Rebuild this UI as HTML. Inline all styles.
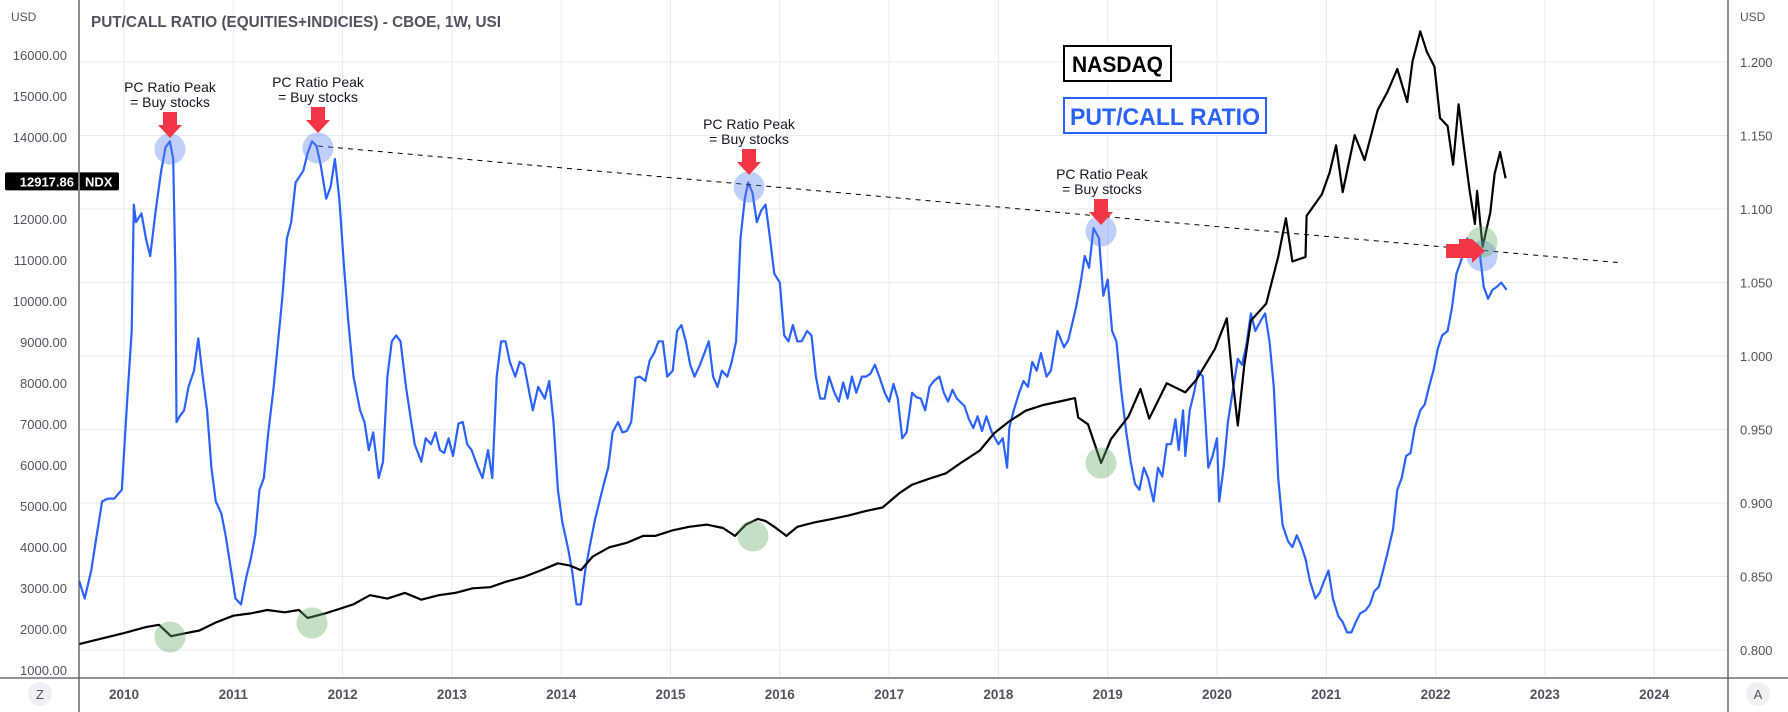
<!DOCTYPE html>
<html><head><meta charset="utf-8">
<style>
html,body{margin:0;padding:0;background:#fff;}
svg{display:block;font-family:"Liberation Sans",sans-serif;}
</style></head>
<body>
<svg id="chart" width="1788" height="712" viewBox="0 0 1788 712" xmlns="http://www.w3.org/2000/svg">
<rect x="0" y="0" width="1788" height="712" fill="#ffffff"/>
<g id="grid"></g>
<g id="series"></g>
<g id="annot"></g>
<g id="axes"></g>
</svg>
<script>
const yearTicks = [2010,2011,2012,2013,2014,2015,2016,2017,2018,2019,2020,2021,2022,2023,2024];
const leftTicks = [1000,2000,3000,4000,5000,6000,7000,8000,9000,10000,11000,12000,14000,15000,16000];
const rightTicks = [1.200,1.150,1.100,1.050,1.000,0.950,0.900,0.850,0.800];

const pcDates = [2009.59,2009.64,2009.70,2009.75,2009.80,2009.85,2009.91,2009.98,2010.03,2010.07,2010.09,2010.11,2010.16,2010.20,2010.24,2010.29,2010.34,2010.38,2010.42,2010.45,2010.47,2010.48,2010.51,2010.55,2010.59,2010.64,2010.68,2010.72,2010.76,2010.80,2010.84,2010.89,2010.93,2010.98,2011.02,2011.07,2011.12,2011.16,2011.20,2011.24,2011.28,2011.32,2011.37,2011.41,2011.45,2011.49,2011.53,2011.57,2011.64,2011.68,2011.72,2011.76,2011.80,2011.85,2011.89,2011.93,2011.97,2012.01,2012.05,2012.10,2012.16,2012.20,2012.24,2012.28,2012.33,2012.37,2012.41,2012.45,2012.49,2012.53,2012.58,2012.62,2012.66,2012.72,2012.76,2012.81,2012.85,2012.89,2012.93,2012.97,2013.01,2013.06,2013.10,2013.14,2013.18,2013.24,2013.28,2013.33,2013.37,2013.41,2013.45,2013.49,2013.53,2013.58,2013.62,2013.66,2013.74,2013.79,2013.85,2013.89,2013.93,2013.97,2014.01,2014.06,2014.10,2014.14,2014.18,2014.22,2014.26,2014.31,2014.35,2014.39,2014.43,2014.47,2014.52,2014.56,2014.60,2014.64,2014.68,2014.72,2014.77,2014.81,2014.85,2014.89,2014.93,2014.97,2015.02,2015.06,2015.10,2015.14,2015.18,2015.22,2015.27,2015.31,2015.35,2015.39,2015.43,2015.47,2015.52,2015.56,2015.60,2015.64,2015.68,2015.71,2015.75,2015.79,2015.83,2015.87,2015.91,2015.95,2016.00,2016.04,2016.08,2016.12,2016.16,2016.20,2016.25,2016.29,2016.33,2016.37,2016.41,2016.45,2016.50,2016.54,2016.58,2016.62,2016.66,2016.70,2016.75,2016.79,2016.83,2016.87,2016.91,2016.96,2017.00,2017.04,2017.08,2017.12,2017.16,2017.21,2017.25,2017.29,2017.33,2017.37,2017.41,2017.46,2017.50,2017.54,2017.58,2017.62,2017.69,2017.73,2017.77,2017.81,2017.85,2017.89,2017.94,2018.00,2018.04,2018.08,2018.10,2018.14,2018.19,2018.23,2018.27,2018.31,2018.35,2018.39,2018.44,2018.48,2018.54,2018.60,2018.64,2018.71,2018.75,2018.79,2018.83,2018.87,2018.92,2018.96,2019.00,2019.04,2019.08,2019.12,2019.17,2019.21,2019.25,2019.29,2019.33,2019.37,2019.42,2019.46,2019.50,2019.54,2019.58,2019.62,2019.65,2019.69,2019.71,2019.75,2019.79,2019.83,2019.87,2019.92,2019.96,2020.00,2020.02,2020.06,2020.10,2020.15,2020.19,2020.23,2020.27,2020.31,2020.35,2020.40,2020.44,2020.48,2020.52,2020.56,2020.60,2020.65,2020.69,2020.73,2020.77,2020.81,2020.85,2020.90,2020.94,2020.98,2021.02,2021.06,2021.11,2021.15,2021.19,2021.23,2021.27,2021.31,2021.36,2021.40,2021.44,2021.48,2021.52,2021.56,2021.61,2021.65,2021.69,2021.73,2021.77,2021.81,2021.86,2021.90,2021.94,2021.98,2022.02,2022.06,2022.11,2022.15,2022.19,2022.23,2022.29,2022.34,2022.38,2022.40,2022.44,2022.48,2022.52,2022.56,2022.60,2022.65];
const pcValues = [0.847,0.835,0.854,0.878,0.901,0.903,0.903,0.909,0.971,1.017,1.103,1.091,1.097,1.080,1.068,1.099,1.126,1.142,1.146,1.134,1.056,0.955,0.959,0.963,0.979,0.990,1.012,0.986,0.963,0.924,0.901,0.893,0.878,0.854,0.835,0.831,0.850,0.862,0.878,0.909,0.917,0.948,0.979,1.010,1.041,1.080,1.091,1.118,1.126,1.138,1.146,1.143,1.130,1.107,1.115,1.134,1.107,1.064,1.025,0.986,0.963,0.955,0.936,0.948,0.917,0.928,0.986,1.010,1.014,1.010,0.979,0.959,0.940,0.928,0.944,0.940,0.948,0.936,0.934,0.944,0.932,0.954,0.955,0.940,0.936,0.924,0.917,0.936,0.917,0.986,1.010,1.010,0.996,0.986,0.996,0.994,0.963,0.979,0.971,0.983,0.955,0.909,0.887,0.870,0.854,0.831,0.831,0.854,0.870,0.889,0.901,0.913,0.924,0.948,0.955,0.948,0.949,0.955,0.985,0.986,0.983,0.997,1.002,1.010,1.010,0.986,0.990,1.017,1.021,1.010,0.994,0.986,0.994,1.002,1.010,0.986,0.979,0.990,0.986,0.996,1.010,1.080,1.107,1.118,1.111,1.091,1.099,1.103,1.080,1.056,1.050,1.014,1.010,1.021,1.010,1.010,1.017,1.014,0.986,0.971,0.971,0.986,0.975,0.969,0.982,0.971,0.986,0.975,0.986,0.986,0.988,0.994,0.986,0.975,0.969,0.981,0.971,0.944,0.948,0.975,0.972,0.971,0.963,0.979,0.983,0.986,0.975,0.969,0.977,0.971,0.966,0.957,0.951,0.959,0.949,0.959,0.948,0.940,0.944,0.924,0.951,0.963,0.975,0.983,0.979,0.996,0.990,1.002,0.986,0.990,1.017,1.006,1.011,1.033,1.049,1.068,1.060,1.087,1.080,1.041,1.052,1.017,1.010,0.979,0.948,0.928,0.913,0.909,0.924,0.917,0.901,0.924,0.918,0.940,0.940,0.957,0.936,0.963,0.932,0.963,0.975,0.990,0.986,0.924,0.932,0.944,0.901,0.924,0.955,0.979,0.998,0.994,1.008,1.029,1.017,1.024,1.029,1.010,0.979,0.917,0.885,0.874,0.870,0.878,0.871,0.862,0.847,0.835,0.839,0.847,0.854,0.835,0.823,0.819,0.812,0.812,0.819,0.825,0.827,0.831,0.840,0.843,0.854,0.866,0.882,0.909,0.917,0.932,0.934,0.951,0.963,0.967,0.979,0.990,1.005,1.014,1.017,1.033,1.056,1.064,1.080,1.068,1.076,1.073,1.047,1.039,1.045,1.047,1.050,1.045];

const ndxDates = [2009.59,2009.80,2010.01,2010.20,2010.32,2010.43,2010.53,2010.69,2010.84,2011.00,2011.16,2011.31,2011.47,2011.60,2011.68,2011.84,2011.94,2012.10,2012.25,2012.41,2012.57,2012.72,2012.88,2013.03,2013.19,2013.35,2013.50,2013.66,2013.82,2013.97,2014.08,2014.18,2014.29,2014.44,2014.60,2014.75,2014.86,2015.02,2015.17,2015.33,2015.48,2015.59,2015.69,2015.80,2015.87,2015.95,2016.06,2016.16,2016.32,2016.48,2016.63,2016.79,2016.94,2017.10,2017.21,2017.36,2017.52,2017.67,2017.83,2017.96,2018.09,2018.25,2018.41,2018.56,2018.70,2018.73,2018.82,2018.94,2019.03,2019.19,2019.30,2019.38,2019.54,2019.71,2019.81,2019.98,2020.09,2020.14,2020.19,2020.25,2020.31,2020.45,2020.56,2020.63,2020.69,2020.81,2020.82,2020.96,2021.03,2021.09,2021.15,2021.26,2021.35,2021.47,2021.56,2021.65,2021.74,2021.79,2021.86,2021.92,2021.99,2022.04,2022.11,2022.16,2022.21,2022.26,2022.31,2022.36,2022.38,2022.43,2022.50,2022.54,2022.59,2022.64];
const ndxValues = [1631,1770,1908,2047,2103,1825,1880,1964,2158,2325,2381,2464,2408,2464,2269,2381,2464,2603,2825,2742,2881,2714,2825,2881,2992,3020,3159,3270,3436,3603,3547,3436,3770,3992,4103,4270,4270,4408,4492,4547,4464,4270,4547,4686,4631,4492,4270,4492,4603,4686,4770,4881,4964,5325,5520,5659,5798,6075,6353,6770,7047,7325,7464,7548,7631,7159,6992,6048,6631,7186,7853,7131,7992,7770,8075,8825,9575,8159,6964,8436,9520,9936,11075,12019,10964,11075,12075,12603,13131,13797,12658,14047,13436,14658,15103,15658,14853,15853,16575,16075,15714,14464,14269,13325,14797,13742,12714,11880,12686,11325,12158,13103,13631,12992];

const lastPrice = 12917.86;

const SVGNS = "http://www.w3.org/2000/svg";
function xS(t){ return 124 + (t - 2010) * 109.3; }
function yR(v){ return 62 + (1.2 - v) * 1470; }
function yL(v){ return 670 - (v - 1000) * 0.041; }
function mk(tag, attrs, parent){
  const el = document.createElementNS(SVGNS, tag);
  for (const k in attrs) el.setAttribute(k, attrs[k]);
  parent.appendChild(el);
  return el;
}
const grid = document.getElementById('grid');
const series = document.getElementById('series');
const annot = document.getElementById('annot');
const axes = document.getElementById('axes');

// grid
yearTicks.forEach(function(y){
  const l = mk('line', {x1:xS(y), x2:xS(y), y1:0, y2:678, stroke:'#e4ebf2', 'stroke-width':1}, grid);
  
  
});
rightTicks.forEach(function(v){
  const l = mk('line', {x1:79, x2:1728, y1:yR(v), y2:yR(v), stroke:'#e4ebf2', 'stroke-width':1}, grid);
  
  
});

// series
function path(dates, vals, yf){
  let d = '';
  for (let i = 0; i < dates.length; i++) d += (i ? 'L' : 'M') + xS(dates[i]).toFixed(1) + ' ' + yf(vals[i]).toFixed(1);
  return d;
}
const pcLine = mk('path', {d:path(pcDates, pcValues, yR), fill:'none', stroke:'#2962ff', 'stroke-width':2.2, 'stroke-linejoin':'round'}, series);


const ndxLine = mk('path', {d:path(ndxDates, ndxValues, yL), fill:'none', stroke:'#000000', 'stroke-width':2.2, 'stroke-linejoin':'round'}, series);



// annotations
const trend = mk('line', {x1:318, y1:146, x2:1623, y2:263, stroke:'#000', 'stroke-width':1, 'stroke-dasharray':'5 5'}, annot);



[[170,149],[318,148],[749,187],[1101,231],[1482,256]].forEach(function(c){
  const e = mk('circle', {cx:c[0], cy:c[1], r:15.5, fill:'rgba(90,130,240,0.38)'}, annot);
  
  
});
[[170,637],[312,623],[753,536],[1101,463],[1482,242]].forEach(function(c){
  const e = mk('circle', {cx:c[0], cy:c[1], r:15.5, fill:'rgba(100,170,100,0.38)'}, annot);
  
  
});
// down arrows: [cx, stemTop]
[[170,112],[318,107],[749,149],[1101,199]].forEach(function(a){
  const cx = a[0], t = a[1];
  const p = mk('path', {d:'M'+(cx-7)+' '+t+'H'+(cx+7)+'V'+(t+13)+'H'+(cx+12)+'L'+cx+' '+(t+26)+'L'+(cx-12)+' '+(t+13)+'H'+(cx-7)+'Z', fill:'#f23645'}, annot);
  
  
});
const ra = mk('path', {d:'M1446 244H1459V239H1472L1485 251L1472 263V258H1446Z', fill:'#f23645'}, annot);



[[170,87],[318,82],[749,124],[1102,174]].forEach(function(a){
  const t1 = mk('text', {x:a[0], y:a[1]+5, 'text-anchor':'middle', 'font-size':14, fill:'#131722'}, annot);
  t1.textContent = 'PC Ratio Peak';
  
  
  const t2 = mk('text', {x:a[0], y:a[1]+20, 'text-anchor':'middle', 'font-size':14, fill:'#131722'}, annot);
  t2.textContent = '= Buy stocks';
  
  
});

// legend boxes
const nb = mk('rect', {x:1064, y:46, width:107, height:35, fill:'#fff', stroke:'#000', 'stroke-width':2}, annot);


const nt = mk('text', {x:1072, y:72, 'font-size':22, 'font-weight':'bold', fill:'#000', textLength:91, lengthAdjust:'spacingAndGlyphs'}, annot);
nt.textContent = 'NASDAQ';


const pb = mk('rect', {x:1064, y:98, width:202, height:35, fill:'#fff', stroke:'#2962ff', 'stroke-width':2}, annot);


const pt = mk('text', {x:1070, y:125, 'font-size':24, 'font-weight':'bold', fill:'#2962ff', textLength:190, lengthAdjust:'spacingAndGlyphs'}, annot);
pt.textContent = 'PUT/CALL RATIO';



// axes
const tl = mk('text', {x:91, y:27, 'font-size':15.5, 'font-weight':'bold', fill:'#50535e', textLength:410, lengthAdjust:'spacingAndGlyphs'}, axes);
tl.textContent = 'PUT/CALL RATIO (EQUITIES+INDICIES) - CBOE, 1W, USI';



mk('line', {x1:79, x2:79, y1:0, y2:712, stroke:'#50535e', 'stroke-width':1.3}, axes);
mk('line', {x1:1728, x2:1728, y1:0, y2:712, stroke:'#50535e', 'stroke-width':1.3}, axes);
mk('line', {x1:0, x2:1788, y1:678, y2:678, stroke:'#50535e', 'stroke-width':1.3}, axes);

const u1 = mk('text', {x:11, y:21, 'font-size':12, fill:'#50535e'}, axes);
u1.textContent = 'USD';


const u2 = mk('text', {x:1740, y:21, 'font-size':12, fill:'#50535e'}, axes);
u2.textContent = 'USD';



leftTicks.forEach(function(v){
  const t = mk('text', {x:67, y:yL(v)+5, 'text-anchor':'end', 'font-size':13, fill:'#50535e'}, axes);
  t.textContent = v.toFixed(2);
  
  
});
rightTicks.forEach(function(v){
  const t = mk('text', {x:1740, y:yR(v)+5, 'font-size':13, fill:'#50535e'}, axes);
  t.textContent = v.toFixed(3);
  
  
});
yearTicks.forEach(function(y){
  const t = mk('text', {x:xS(y), y:699, 'text-anchor':'middle', 'font-size':13.5, 'font-weight':'bold', fill:'#50535e'}, axes);
  t.textContent = String(y);
  
  
});

// price tag
const py = yL(lastPrice);
const tag = mk('rect', {x:5, y:py-9, width:114, height:18, rx:2, fill:'#000'}, axes);


mk('line', {x1:79, x2:79, y1:py-9, y2:py+9, stroke:'#fff', 'stroke-width':1}, axes);
const ptx = mk('text', {x:74, y:py+5, 'text-anchor':'end', 'font-size':13, 'font-weight':'bold', fill:'#fff'}, axes);
ptx.textContent = lastPrice.toFixed(2);


const ptn = mk('text', {x:85, y:py+5, 'font-size':13, 'font-weight':'bold', fill:'#fff'}, axes);
ptn.textContent = 'NDX';



// corner buttons
[[40,'Z','log-scale-button'],[1758,'A','auto-scale-button']].forEach(function(b){
  const c = mk('circle', {cx:b[0], cy:694, r:12, fill:'#eef0f4'}, axes);
  
  
  const t = mk('text', {x:b[0], y:699, 'text-anchor':'middle', 'font-size':13, fill:'#50535e'}, axes);
  t.textContent = b[1];
  
  
});
</script>
</body></html>
